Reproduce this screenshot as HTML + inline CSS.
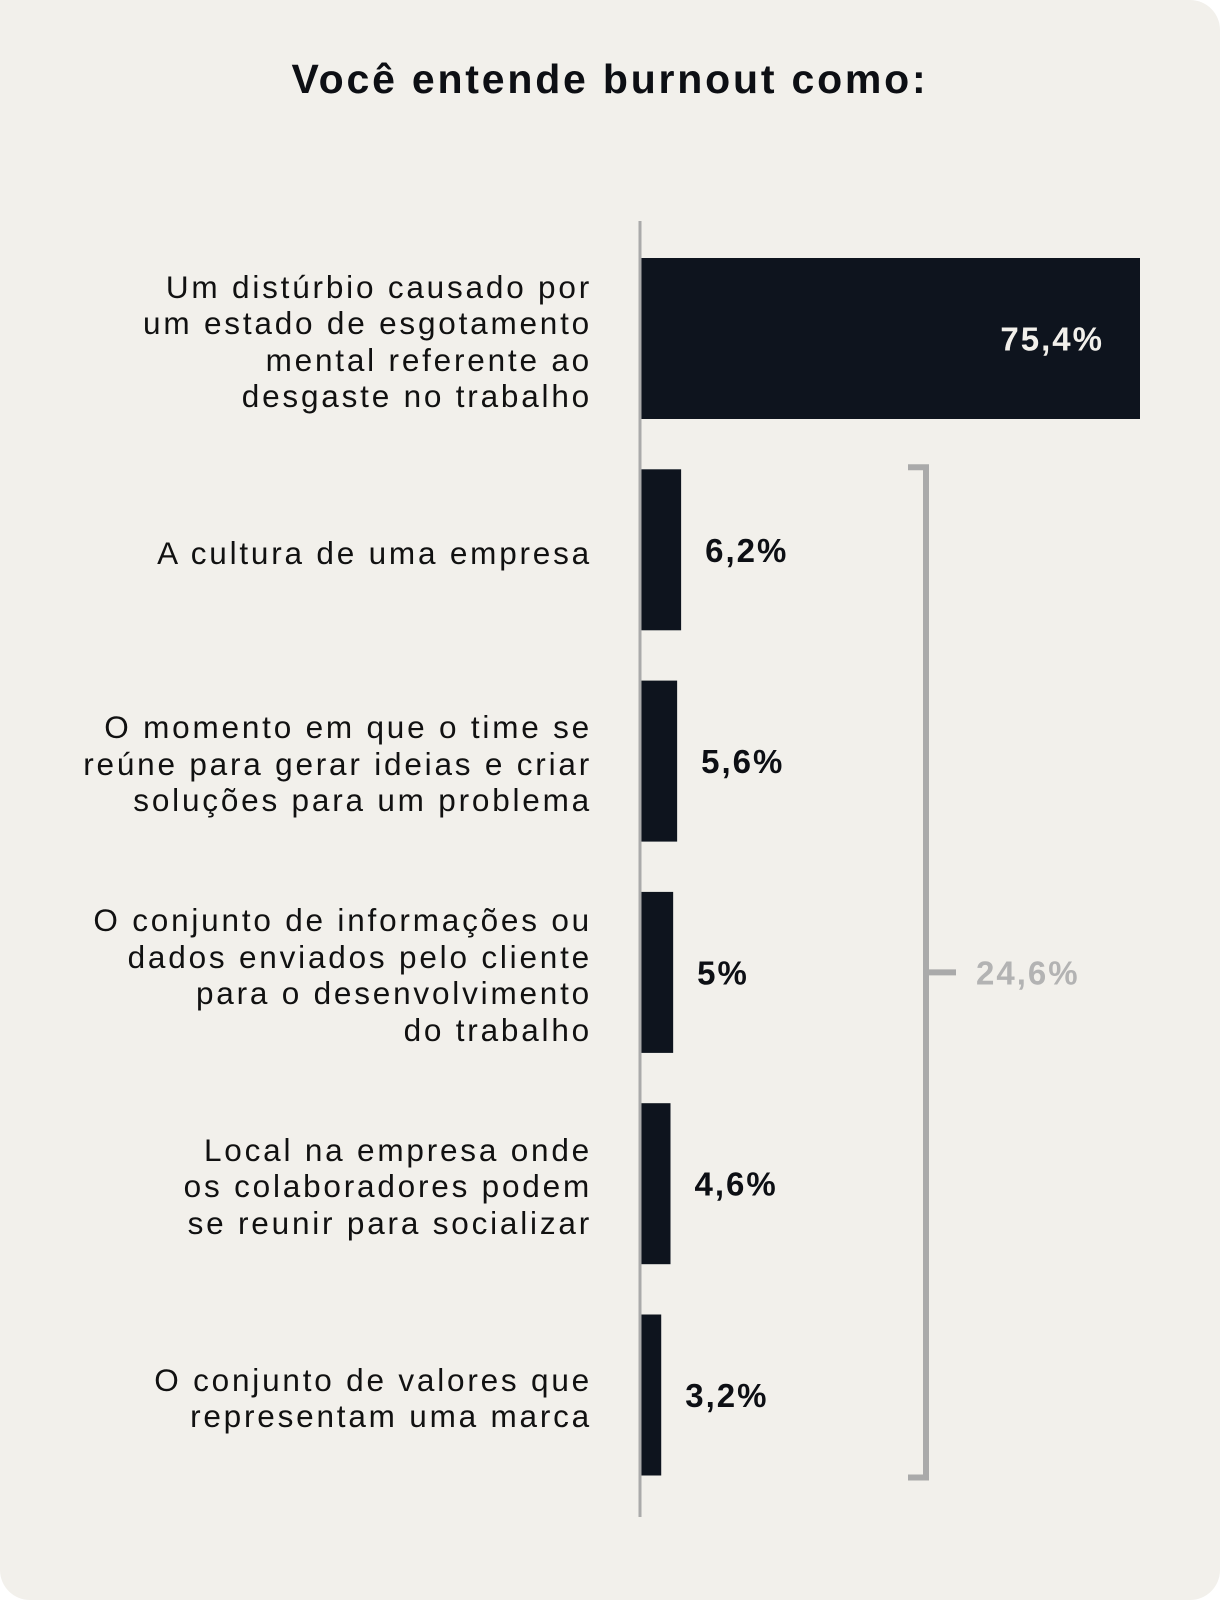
<!DOCTYPE html>
<html><head><meta charset="utf-8"><style>
html,body{margin:0;padding:0;background:#fff;}
#card{position:absolute;left:0;top:0;width:1220px;height:1600px;background:#f2f0eb;border-radius:0 30px 30px 30px;overflow:hidden;font-family:"Liberation Sans",sans-serif;}
h1{position:absolute;top:56px;left:0;width:1220px;text-align:center;margin:0;font-size:41px;font-weight:bold;color:#0d0f14;letter-spacing:2.8px;}
.lbl{position:absolute;right:628px;text-align:right;font-size:31.5px;line-height:36.5px;color:#111;letter-spacing:2.8px;}
</style></head><body>
<div id="card">
<h1>Você entende burnout como:</h1>
<svg id="chart" width="1220" height="1600" style="position:absolute;left:0;top:0"></svg>
</div>
<script>
const categories=["Um distúrbio causado por<br>um estado de esgotamento<br>mental referente ao<br>desgaste no trabalho","A cultura de uma empresa","O momento em que o time se<br>reúne para gerar ideias e criar<br>soluções para um problema","O conjunto de informações ou<br>dados enviados pelo cliente<br>para o desenvolvimento<br>do trabalho","Local na empresa onde<br>os colaboradores podem<br>se reunir para socializar","O conjunto de valores que<br>representam uma marca"];
const values=[75.4,6.2,5.6,5,4.6,3.2];
const valueLabels=["75,4%","6,2%","5,6%","5%","4,6%","3,2%"];
const groupLabel="24,6%";
const NS="http://www.w3.org/2000/svg";
const svg=document.getElementById('chart');
const card=document.getElementById('card');
const x0=640,pxPer=500/75.4;
const xs=v=>x0+v*pxPer;
const top0=258,step=211.3,bh=161;
const ys=i=>top0+i*step;
function mk(t,a){const e=document.createElementNS(NS,t);for(const k in a)e.setAttribute(k,a[k]);svg.appendChild(e);return e;}
values.forEach((v,i)=>{
 const r=mk('rect',{x:x0,y:ys(i),width:xs(v)-x0,height:bh,fill:'#0e141e'});
 
 
 const cy=ys(i)+bh/2;
 let t;
 if(i===0){t=mk('text',{x:xs(v)-36,y:cy+12,'text-anchor':'end',fill:'#f2f0eb','font-size':33,'font-weight':'bold','letter-spacing':2,'font-family':'Liberation Sans, sans-serif'});}
 else{t=mk('text',{x:xs(v)+24,y:cy+12,'text-anchor':'start',fill:'#0d0f14','font-size':33,'font-weight':'bold','letter-spacing':2,'font-family':'Liberation Sans, sans-serif'});}
 t.textContent=valueLabels[i];
 
 
 const d=document.createElement('div');
 d.className='lbl';
 d.innerHTML=categories[i];
 
 
 card.appendChild(d);
 const n=categories[i].split('<br>').length;
 d.style.top=(cy-n*36.5/2+3)+'px';
});
const ax=mk('line',{x1:x0,y1:221,x2:x0,y2:1517,stroke:'#aaa','stroke-width':3});


const by1=ys(1)-2,by2=ys(5)+bh+2,bx=926;
const br=mk('path',{d:`M${bx-18} ${by1} H${bx} V${by2} H${bx-18} M${bx} ${(by1+by2)/2} H${bx+30}`,stroke:'#aaa','stroke-width':6,fill:'none'});


const gl=mk('text',{x:976,y:(by1+by2)/2+12,fill:'#b3b3b3','font-size':33,'font-weight':'bold','letter-spacing':2,'font-family':'Liberation Sans, sans-serif'});
gl.textContent=groupLabel;


</script>
</body></html>
